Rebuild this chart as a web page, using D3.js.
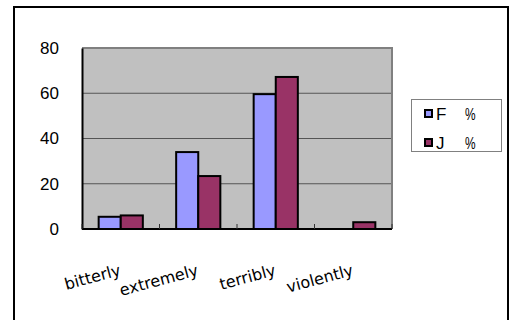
<!DOCTYPE html>
<html><head><meta charset="utf-8">
<script src="https://cdn.jsdelivr.net/npm/d3@7"></script>
<style>html,body{margin:0;padding:0;background:#fff;}svg{display:block;}</style>
</head><body>
<script>
const categories = ["bitterly", "extremely", "terribly", "violently"];
const seriesNames = ["F", "J"];
const seriesF = [5.4, 34, 59.6, 0];
const seriesJ = [6, 23.4, 67.2, 3];
const yTicks = [0, 20, 40, 60, 80];
const legendLabels = ["F", "J"];
const colors = ["#9999ff", "#993366"];

const W = 514, H = 320;
const svg = d3.select("body").append("svg").attr("width", W).attr("height", H);

// outer frame
svg.append("rect").attr("x", 14).attr("y", 7).attr("width", 494).attr("height", 330)
  .attr("fill", "#fff").attr("stroke", "#000").attr("stroke-width", 2);

const L = 82, R = 392, T = 48, B = 229;
const x0 = d3.scaleBand().domain(categories).range([L, R]).padding(0);
const x1 = d3.scaleBand().domain(seriesNames)
  .range([x0.bandwidth() * 0.215, x0.bandwidth() * 0.785]).padding(0);
const y = d3.scaleLinear().domain([0, 80]).range([B, T]);

// plot background
svg.append("rect").attr("x", L).attr("y", T).attr("width", R - L).attr("height", B - T)
  .attr("fill", "#c0c0c0");

// gridlines
svg.append("g").selectAll("line").data(yTicks.filter(d => d > 0 && d < 80)).join("line")
  .attr("x1", L).attr("x2", R).attr("y1", d => y(d)).attr("y2", d => y(d))
  .attr("stroke", "#555").attr("stroke-width", 1);

// top/right border gray
svg.append("path").attr("d", `M${L},${T} H${R} V${B}`).attr("fill", "none")
  .attr("stroke", "#808080").attr("stroke-width", 2);

// bars
const data = categories.map((c, i) => ({cat: c, vals: [seriesF[i], seriesJ[i]]}));
const g = svg.append("g").selectAll("g").data(data).join("g")
  .attr("transform", d => `translate(${x0(d.cat)},0)`);
g.selectAll("rect").data(d => d.vals.map((v, k) => ({v, k}))).join("rect")
  .filter(d => d.v > 0)
  .attr("x", d => x1(seriesNames[d.k]))
  .attr("y", d => y(d.v))
  .attr("width", x1.bandwidth())
  .attr("height", d => y(0) - y(d.v))
  .attr("fill", d => colors[d.k])
  .attr("stroke", "#000").attr("stroke-width", 2);

// y axis
const yAxis = d3.axisLeft(y).tickValues(yTicks).tickSize(0).tickPadding(23);
const ya = svg.append("g").attr("transform", `translate(${L},0)`).call(yAxis);
ya.select(".domain").attr("stroke", "#000").attr("stroke-width", 2);
ya.selectAll("text").attr("font-family", "Liberation Sans, Arial, sans-serif")
  .attr("font-size", 17).attr("fill", "#000");

// x axis
const xa = svg.append("g").attr("transform", `translate(0,${B})`);
xa.append("line").attr("x1", L).attr("x2", R).attr("stroke", "#000").attr("stroke-width", 2);
const bounds = categories.map(c => x0(c)).concat([R]);
xa.selectAll("line.tk").data(bounds).join("line").attr("class", "tk")
  .attr("x1", d => d).attr("x2", d => d).attr("y1", 0).attr("y2", -5)
  .attr("stroke", "#333").attr("stroke-width", 1);
xa.selectAll("text").data(categories).join("text")
  .attr("transform", d => `translate(${x0(d) + x0.bandwidth() / 2 + 1},${46}) rotate(-15)`)
  .attr("text-anchor", "end")
  .attr("font-family", "DejaVu Sans, sans-serif")
  .attr("font-size", 16).attr("fill", "#000")
  .text(d => d);

// legend
const lg = svg.append("g");
lg.append("rect").attr("x", 411.5).attr("y", 99.5).attr("width", 90).attr("height", 52)
  .attr("fill", "#fff").attr("stroke", "#808080").attr("stroke-width", 1);
const items = lg.selectAll("g").data(legendLabels).join("g")
  .attr("transform", (d, i) => `translate(0,${i * 29})`);
items.append("rect").attr("x", 425).attr("y", 110).attr("width", 7).attr("height", 7)
  .attr("fill", (d, i) => colors[i]).attr("stroke", "#000").attr("stroke-width", 2);
items.append("text").attr("x", 436).attr("y", 120)
  .attr("font-family", "Liberation Sans, Arial, sans-serif").attr("font-size", 17)
  .text(d => d);
items.append("text")
  .attr("transform", "translate(465,120) scale(0.7,1)")
  .attr("font-family", "Liberation Sans, Arial, sans-serif").attr("font-size", 17)
  .text("%");
</script>
</body></html>
